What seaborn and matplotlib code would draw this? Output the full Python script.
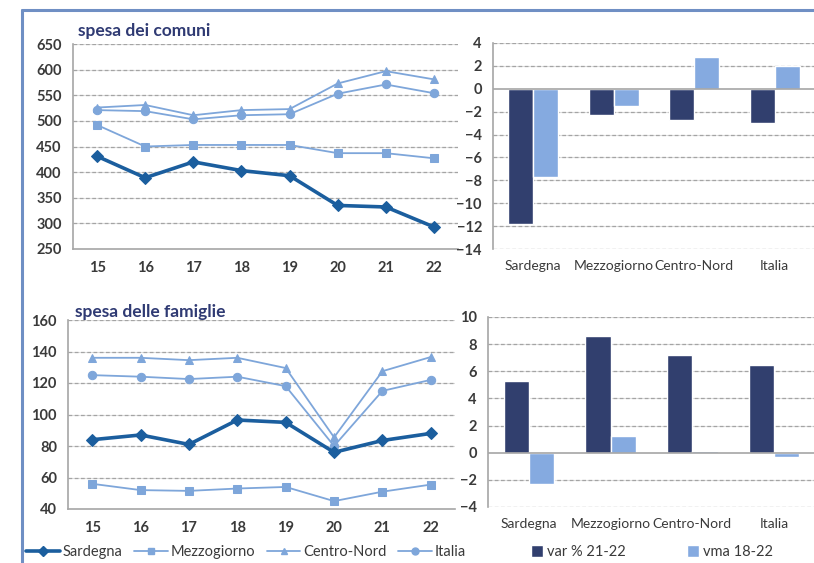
import matplotlib
matplotlib.use("Agg")
import matplotlib.pyplot as plt
import seaborn as sns
import pandas as pd
from matplotlib.lines import Line2D
from matplotlib.patches import Patch

sns.set_theme(style="white")
plt.rcParams['font.family'] = ['Lato', 'DejaVu Sans']

years = [15, 16, 17, 18, 19, 20, 21, 22]
year_labels = ["15", "16", "17", "18", "19", "20", "21", "22"]
series = ["Sardegna", "Mezzogiorno", "Centro-Nord", "Italia"]

comuni_sardegna = [431, 389, 420, 403, 393, 335, 332, 293]
comuni_mezzogiorno = [492, 450, 453, 453, 453, 437, 437, 427]
comuni_centronord = [526, 531, 511, 521, 523, 573, 597, 581]
comuni_italia = [521, 519, 503, 511, 513, 553, 571, 554]

famiglie_sardegna = [84, 87, 81, 96.5, 95, 76, 83.5, 88]
famiglie_mezzogiorno = [56, 52, 51.5, 53, 54, 45, 51, 55.5]
famiglie_centronord = [136, 136, 134.5, 136, 129.5, 85.5, 127.5, 136.5]
famiglie_italia = [125, 124, 122.5, 124, 118, 80, 115, 122]

regions = ["Sardegna", "Mezzogiorno", "Centro-Nord", "Italia"]
bar_series = ["var % 21-22", "vma 18-22"]
comuni_var = [-11.8, -2.3, -2.7, -3.0]
comuni_vma = [-7.7, -1.5, 2.8, 2.0]
famiglie_var = [5.3, 8.6, 7.2, 6.5]
famiglie_vma = [-2.3, 1.2, 0.1, -0.3]

DARK_LINE = "#1B5E9E"
LIGHT_LINE = "#7EA6DA"
DARK_BAR = "#313F6E"
LIGHT_BAR = "#85AAE0"
TITLE_C = "#2F3A73"
GRID_C = "#A4A4A4"
GRID_BG = "#DEDEDE"
AX_C = "#A6A6A6"
TXT_C = "#3A3A3A"
FRAME_C = "#6F8FC4"

line_colors = {"Sardegna": DARK_LINE, "Mezzogiorno": LIGHT_LINE,
               "Centro-Nord": LIGHT_LINE, "Italia": LIGHT_LINE}
line_markers = {"Sardegna": "D", "Mezzogiorno": "s", "Centro-Nord": "^", "Italia": "o"}
line_widths = {"Sardegna": 2.6, "Mezzogiorno": 1.3, "Centro-Nord": 1.3, "Italia": 1.3}
marker_sizes = {"Sardegna": 6.5, "Mezzogiorno": 6, "Centro-Nord": 6, "Italia": 6}

fig = plt.figure(figsize=(8.14, 5.63), dpi=100)

# frame (left and top edges of the outer box)
fx, fy = 22 / 814, 1 - 10 / 563
fig.add_artist(Line2D([fx, fx], [0, fy], transform=fig.transFigure, color=FRAME_C, linewidth=2.2))
fig.add_artist(Line2D([fx, 1], [fy, fy], transform=fig.transFigure, color=FRAME_C, linewidth=2.2))


def style_common(ax, grid_vals):
    for s in ["top", "right"]:
        ax.spines[s].set_visible(False)
    ax.spines["left"].set_color(AX_C)
    ax.spines["left"].set_linewidth(1.2)
    ax.grid(False)
    for yv in grid_vals:
        ax.axhline(yv, color=GRID_BG, linestyle="-", linewidth=0.8, zorder=0.6)
        ax.axhline(yv, color=GRID_C, linestyle=(0, (3, 2)), linewidth=0.9, zorder=0.7)
    ax.set_xlabel("")
    ax.set_ylabel("")
    ax.tick_params(axis="y", direction="out", length=4, width=1, color=AX_C, labelcolor=TXT_C,
                   labelsize=10.5, pad=4)


def line_panel(ax, data_lists, ylim, yticks):
    rows = []
    for name, vals in zip(series, data_lists):
        for y, v in zip(years, vals):
            rows.append({"anno": y, "valore": v, "serie": name})
    df = pd.DataFrame(rows)
    for name in series:
        sub = df[df["serie"] == name]
        sns.lineplot(data=sub, x="anno", y="valore", ax=ax, color=line_colors[name],
                     marker=line_markers[name], markersize=marker_sizes[name],
                     linewidth=line_widths[name], markeredgecolor=line_colors[name],
                     legend=False, zorder=4 if name == "Sardegna" else 3)
    ax.set_xlim(14.5, 22.5)
    ax.set_ylim(*ylim)
    ax.set_yticks(yticks)
    ax.set_xticks(years)
    ax.set_xticklabels(year_labels)
    ax.set_xticks([y - 0.5 for y in years] + [22.5], minor=True)
    style_common(ax, yticks[1:])
    ax.spines["bottom"].set_color(AX_C)
    ax.spines["bottom"].set_linewidth(1.2)
    ax.tick_params(axis="x", which="major", length=0, labelcolor=TXT_C, labelsize=10.5, pad=9)
    ax.tick_params(axis="x", which="minor", direction="out", length=4, width=1, color=AX_C)
    for lab in ax.get_xticklabels() + ax.get_yticklabels():
        lab.set_fontweight("bold")


def bar_panel(ax, var_vals, vma_vals, ylim, yticks):
    rows = []
    for r, a, b in zip(regions, var_vals, vma_vals):
        rows.append({"regione": r, "valore": a, "serie": bar_series[0]})
        rows.append({"regione": r, "valore": b, "serie": bar_series[1]})
    df = pd.DataFrame(rows)
    sns.barplot(data=df, x="regione", y="valore", hue="serie", order=regions,
                hue_order=bar_series, palette=[DARK_BAR, LIGHT_BAR], width=0.62,
                ax=ax, legend=False, saturation=1, zorder=3)
    ax.set_xlim(-0.5, 3.5)
    ax.set_ylim(*ylim)
    ax.set_yticks(yticks)
    style_common(ax, [v for v in yticks if v != 0])
    ax.spines["bottom"].set_visible(False)
    ax.axhline(0, color=AX_C, linewidth=1.2, zorder=4)
    ax.tick_params(axis="x", which="major", length=0, labelcolor=TXT_C, labelsize=10, pad=8)
    for lab in ax.get_yticklabels():
        lab.set_fontweight("bold")


ax1 = fig.add_axes([73 / 814, 1 - 249 / 563, (458 - 73) / 814, (249 - 44) / 563])
line_panel(ax1, [comuni_sardegna, comuni_mezzogiorno, comuni_centronord, comuni_italia],
           (250, 650), list(range(250, 651, 50)))

ax2 = fig.add_axes([493 / 814, 1 - 249 / 563, (815 - 493) / 814, (249 - 43) / 563])
bar_panel(ax2, comuni_var, comuni_vma, (-14, 4), list(range(-14, 5, 2)))

ax3 = fig.add_axes([68 / 814, 1 - 509 / 563, (455 - 68) / 814, (509 - 320) / 563])
line_panel(ax3, [famiglie_sardegna, famiglie_mezzogiorno, famiglie_centronord, famiglie_italia],
           (40, 160), list(range(40, 161, 20)))

ax4 = fig.add_axes([488 / 814, 1 - 507 / 563, (815 - 488) / 814, (507 - 317) / 563])
bar_panel(ax4, famiglie_var, famiglie_vma, (-4, 10), list(range(-4, 11, 2)))

fig.text(78 / 814, 1 - 31 / 563, "spesa dei comuni", color=TITLE_C, fontsize=12.5,
         fontweight="bold", va="center", ha="left")
fig.text(75 / 814, 1 - 312 / 563, "spesa delle famiglie", color=TITLE_C, fontsize=12.5,
         fontweight="bold", va="center", ha="left")

line_handles = [Line2D([0], [0], color=line_colors[n], marker=line_markers[n],
                       markersize=marker_sizes[n] - 1, linewidth=line_widths[n]) for n in series]
leg1 = fig.legend(line_handles, series, loc="center", bbox_to_anchor=(246 / 814, 1 - 552 / 563),
                  ncol=4, frameon=False, fontsize=10.5, handlelength=2.3, handletextpad=0.2,
                  columnspacing=0.8, borderaxespad=0, borderpad=0)
for t in leg1.get_texts():
    t.set_color(TXT_C)

bar_handles = [Patch(facecolor=DARK_BAR), Patch(facecolor=LIGHT_BAR)]
leg2 = fig.legend(bar_handles, bar_series, loc="center", bbox_to_anchor=(652 / 814, 1 - 552 / 563),
                  ncol=2, frameon=False, fontsize=10.5, handlelength=0.8, handleheight=0.8,
                  handletextpad=0.3, columnspacing=4.2, borderaxespad=0, borderpad=0)
for t in leg2.get_texts():
    t.set_color(TXT_C)

fig.savefig("out.png", dpi=100)
